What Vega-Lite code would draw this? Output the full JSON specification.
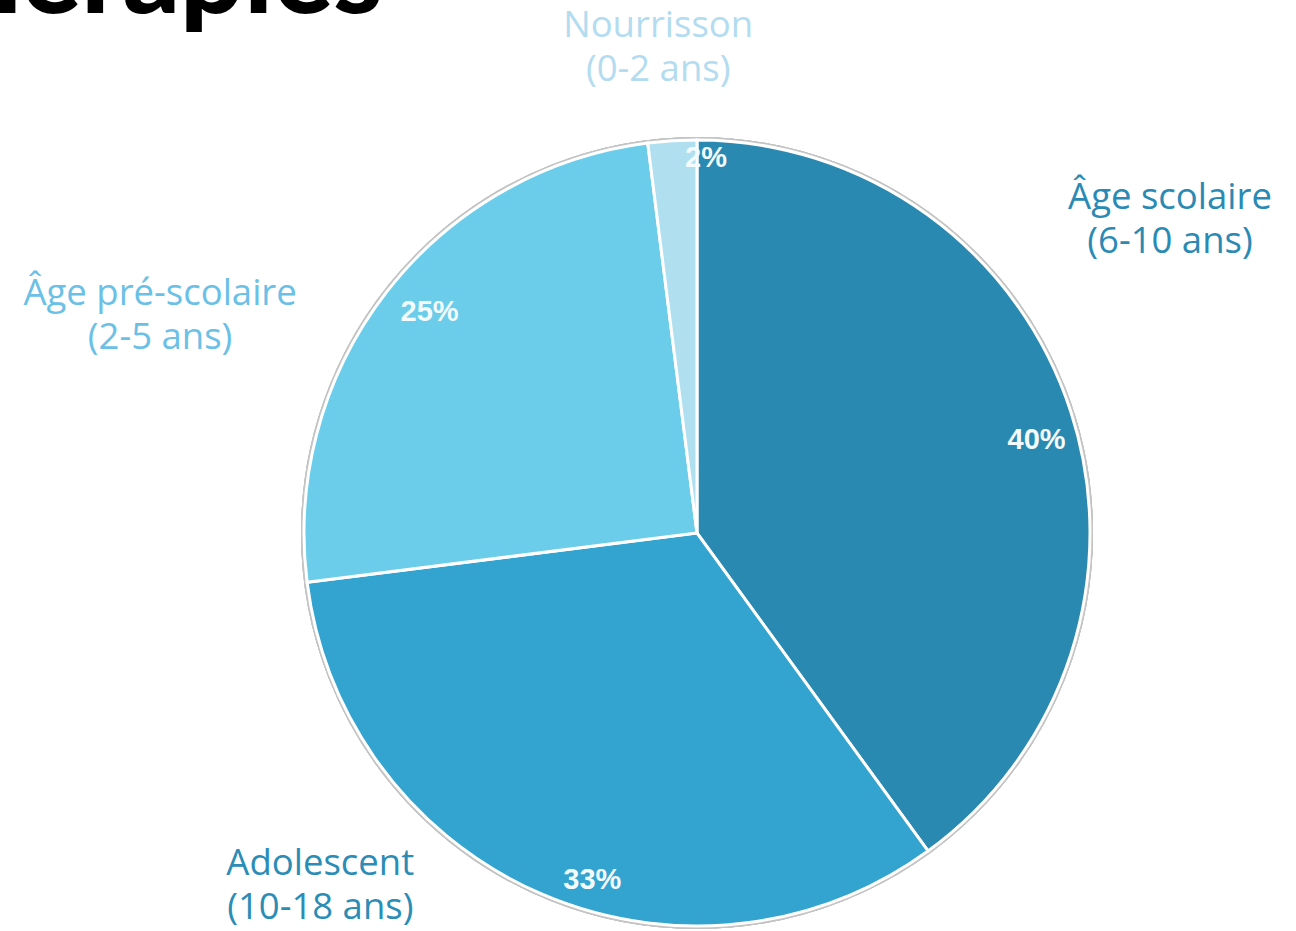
{
  "$schema": "https://vega.github.io/schema/vega-lite/v6.json",
  "width": 790,
  "height": 790,
  "autosize": {"type": "none"},
  "padding": {"left": 302, "top": 138, "right": 204, "bottom": 3},
  "background": "white",
  "view": {"stroke": null},
  "title": {
    "text": "Thérapies",
    "frame": "group",
    "anchor": "start",
    "orient": "top",
    "baseline": "alphabetic",
    "offset": -178,
    "dx": -411,
    "font": "Lato",
    "fontSize": 112,
    "fontWeight": 900,
    "color": "#000000"
  },
  "data": {
    "values": [
      {"groupe": "Âge scolaire", "label": "Âge scolaire\n(6-10 ans)", "part": 40, "pct": "40%", "ordre": 1},
      {"groupe": "Adolescent", "label": "Adolescent\n(10-18 ans)", "part": 33, "pct": "33%", "ordre": 2},
      {"groupe": "Âge pré-scolaire", "label": "Âge pré-scolaire\n(2-5 ans)", "part": 25, "pct": "25%", "ordre": 3},
      {"groupe": "Nourrisson", "label": "Nourrisson\n(0-2 ans)", "part": 2, "pct": "2%", "ordre": 4}
    ]
  },
  "layer": [
    {
      "mark": {"type": "arc", "theta": 0, "theta2": 6.2832, "radius": 395, "filled": false, "stroke": "#c4c4c4", "strokeWidth": 2},
      "encoding": {}
    },
    {
      "mark": {"type": "arc", "outerRadius": 393, "stroke": "#ffffff", "strokeWidth": 3},
      "encoding": {
        "theta": {"field": "part", "type": "quantitative", "stack": true},
        "order": {"field": "ordre", "type": "quantitative"},
        "color": {
          "field": "groupe", "type": "nominal", "legend": null,
          "scale": {"domain": ["Âge scolaire", "Adolescent", "Âge pré-scolaire", "Nourrisson"], "range": ["#2a89b0", "#33a3cf", "#6bcde9", "#b0e0f0"]}
        }
      }
    },
    {
      "mark": {"type": "text", "radius": 567, "thetaOffset": -0.27, "dy": -22, "font": "Open Sans", "fontSize": 36.5, "lineHeight": 44, "lineBreak": "\n", "align": "center", "baseline": "middle", "color": "#2a8ab4"},
      "encoding": {
        "theta": {"field": "part", "type": "quantitative", "stack": true},
        "order": {"field": "ordre", "type": "quantitative"},
        "text": {"condition": {"test": "datum.groupe === 'Âge scolaire'", "field": "label"}, "value": ""}
      }
    },
    {
      "mark": {"type": "text", "radius": 516, "thetaOffset": 0.41, "dy": -22, "font": "Open Sans", "fontSize": 36.5, "lineHeight": 44, "lineBreak": "\n", "align": "center", "baseline": "middle", "color": "#2b8db6"},
      "encoding": {
        "theta": {"field": "part", "type": "quantitative", "stack": true},
        "order": {"field": "ordre", "type": "quantitative"},
        "text": {"condition": {"test": "datum.groupe === 'Adolescent'", "field": "label"}, "value": ""}
      }
    },
    {
      "mark": {"type": "text", "radius": 579, "thetaOffset": -0.276, "dy": -22, "font": "Open Sans", "fontSize": 36.5, "lineHeight": 44, "lineBreak": "\n", "align": "center", "baseline": "middle", "color": "#6bc0e6"},
      "encoding": {
        "theta": {"field": "part", "type": "quantitative", "stack": true},
        "order": {"field": "ordre", "type": "quantitative"},
        "text": {"condition": {"test": "datum.groupe === 'Âge pré-scolaire'", "field": "label"}, "value": ""}
      }
    },
    {
      "mark": {"type": "text", "radius": 487, "thetaOffset": -0.017, "dy": -22, "font": "Open Sans", "fontSize": 36.5, "lineHeight": 44, "lineBreak": "\n", "align": "center", "baseline": "middle", "color": "#b3dcf0"},
      "encoding": {
        "theta": {"field": "part", "type": "quantitative", "stack": true},
        "order": {"field": "ordre", "type": "quantitative"},
        "text": {"condition": {"test": "datum.groupe === 'Nourrisson'", "field": "label"}, "value": ""}
      }
    },
    {
      "mark": {"type": "text", "radius": 352, "thetaOffset": 0.047, "font": "Liberation Sans", "fontSize": 29, "fontWeight": "bold", "align": "center", "baseline": "middle", "color": "#f4fbfd"},
      "encoding": {
        "theta": {"field": "part", "type": "quantitative", "stack": true},
        "order": {"field": "ordre", "type": "quantitative"},
        "text": {"condition": {"test": "datum.groupe === 'Âge scolaire'", "field": "pct"}, "value": ""}
      }
    },
    {
      "mark": {"type": "text", "radius": 362, "thetaOffset": -0.115, "font": "Liberation Sans", "fontSize": 29, "fontWeight": "bold", "align": "center", "baseline": "middle", "color": "#f4fbfd"},
      "encoding": {
        "theta": {"field": "part", "type": "quantitative", "stack": true},
        "order": {"field": "ordre", "type": "quantitative"},
        "text": {"condition": {"test": "datum.groupe === 'Adolescent'", "field": "pct"}, "value": ""}
      }
    },
    {
      "mark": {"type": "text", "radius": 347, "thetaOffset": 0.031, "font": "Liberation Sans", "fontSize": 29, "fontWeight": "bold", "align": "center", "baseline": "middle", "color": "#f4fbfd"},
      "encoding": {
        "theta": {"field": "part", "type": "quantitative", "stack": true},
        "order": {"field": "ordre", "type": "quantitative"},
        "text": {"condition": {"test": "datum.groupe === 'Âge pré-scolaire'", "field": "pct"}, "value": ""}
      }
    },
    {
      "mark": {"type": "text", "radius": 375, "thetaOffset": 0.087, "font": "Liberation Sans", "fontSize": 29, "fontWeight": "bold", "align": "center", "baseline": "middle", "color": "#f4fbfd"},
      "encoding": {
        "theta": {"field": "part", "type": "quantitative", "stack": true},
        "order": {"field": "ordre", "type": "quantitative"},
        "text": {"condition": {"test": "datum.groupe === 'Nourrisson'", "field": "pct"}, "value": ""}
      }
    }
  ]
}
